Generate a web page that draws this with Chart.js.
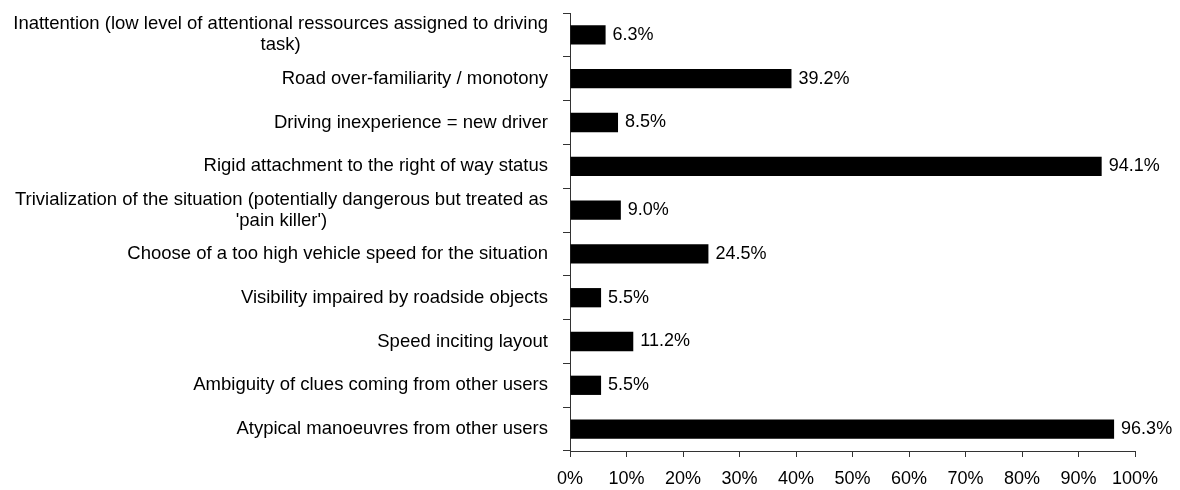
<!DOCTYPE html>
<html>
<head>
<meta charset="utf-8">
<script src="https://cdn.jsdelivr.net/npm/chart.js@4/dist/chart.umd.min.js"></script>
<style>
html,body{margin:0;padding:0;background:#fff;}
#wrap{width:1180px;height:490px;position:relative;}
</style>
</head>
<body>
<div id="wrap"><canvas id="c"></canvas></div>
<script>
const categories = [
  ["Inattention (low level of attentional ressources assigned to driving", "task)"],
  "Road over-familiarity / monotony",
  "Driving inexperience = new driver",
  "Rigid attachment to the right of way status",
  ["Trivialization of the situation (potentially dangerous but treated as", "'pain killer')"],
  "Choose of a too high vehicle speed for the situation",
  "Visibility impaired by roadside objects",
  "Speed inciting layout",
  "Ambiguity of clues coming from other users",
  "Atypical manoeuvres from other users"
];
const values = [6.3, 39.2, 8.5, 94.1, 9.0, 24.5, 5.5, 11.2, 5.5, 96.3];
const xTicks = [0, 10, 20, 30, 40, 50, 60, 70, 80, 90, 100];

const FONT = '"Liberation Sans", Arial, sans-serif';
const FS = 18;
const CAT_FS = 18.5;

const labelPlugin = {
  id: 'labels',
  afterDatasetsDraw(chart) {
    const ctx = chart.ctx;
    const y = chart.scales.y;
    const meta = chart.getDatasetMeta(0);
    ctx.save();
    ctx.fillStyle = '#000';
    ctx.textBaseline = 'middle';
    // category labels
    ctx.font = CAT_FS + 'px ' + FONT;
    categories.forEach((lab, i) => {
      const lines = Array.isArray(lab) ? lab : [lab];
      const yc = y.getPixelForValue(i);
      let bw = 0;
      lines.forEach(l => { bw = Math.max(bw, ctx.measureText(l).width); });
      const cx = 548 - bw / 2;
      ctx.textAlign = 'center';
      const lh = 21;
      lines.forEach((l, j) => {
        ctx.fillText(l, cx, yc + (j - (lines.length - 1) / 2) * lh);
      });
    });
    // value labels
    ctx.font = FS + 'px ' + FONT;
    ctx.textAlign = 'left';
    meta.data.forEach((bar, i) => {
      ctx.fillText(values[i].toFixed(1) + '%', bar.x + 7, bar.y);
    });
    ctx.restore();
  }
};

new Chart(document.getElementById('c'), {
  type: 'bar',
  data: {
    labels: categories,
    datasets: [{
      data: values,
      backgroundColor: '#000',
      borderWidth: 0,
      barPercentage: 0.44,
      categoryPercentage: 1
    }]
  },
  options: {
    indexAxis: 'y',
    responsive: true,
    maintainAspectRatio: false,
    animation: false,
    layout: { padding: { top: 13, right: 45, left: 0, bottom: 0 } },
    plugins: { legend: { display: false }, tooltip: { enabled: false } },
    scales: {
      x: {
        min: 0, max: 100,
        afterBuildTicks(scale) { scale.ticks = xTicks.map(v => ({ value: v })); },
        afterFit(scale) { scale.height = 39; },
        ticks: {
          callback: v => v + '%',
          color: '#000',
          font: { family: FONT, size: FS },
          padding: 11,
          maxRotation: 0
        },
        grid: { drawOnChartArea: false, drawTicks: true, tickLength: 6, color: '#333', lineWidth: 1 },
        border: { display: true, color: '#333', width: 1 }
      },
      y: {
        type: 'category',
        offset: true,
        afterFit(scale) { scale.width = 570; },
        ticks: { display: false },
        grid: { offset: true, drawOnChartArea: false, drawTicks: true, tickLength: 7, color: '#333', lineWidth: 1 },
        border: { display: true, color: '#333', width: 1 }
      }
    }
  },
  plugins: [labelPlugin]
});
</script>
</body>
</html>
